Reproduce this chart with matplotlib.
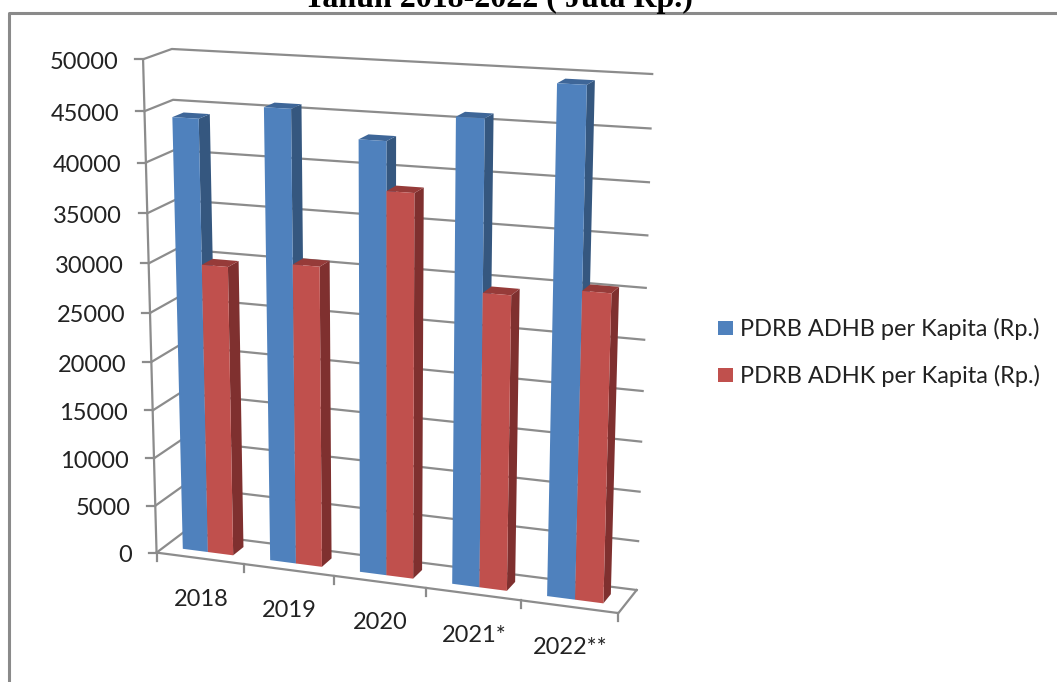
import numpy as np
import matplotlib
matplotlib.use("Agg")
import matplotlib.pyplot as plt
from matplotlib.patches import Polygon, Rectangle

plt.rcParams["font.family"] = ["Lato", "DejaVu Sans"]

W, H = 1057, 682

years = ["2018", "2019", "2020", "2021*", "2022**"]
adhb = [44200, 45700, 43200, 45900, 49500]
adhk = [29800, 30600, 38450, 29400, 30400]
series_names = ["PDRB ADHB per Kapita (Rp.)", "PDRB ADHK per Kapita (Rp.)"]
y_ticks = [0, 5000, 10000, 15000, 20000, 25000, 30000, 35000, 40000, 45000, 50000]

BLUE = ("#4f81bd", "#35577f", "#3e6698")
RED = ("#c0504d", "#7f302f", "#963b39")
GRID = "#8c8c8c"

# pixel positions of the chart box corners, (category pos, depth, value) -> (px, py)
anchors = [
    (0, 0, 0, 157, 552), (0, 0, 25000, 150, 313), (0, 0, 50000, 143, 59),
    (0, 1, 0, 183, 533), (0, 1, 45000, 173, 100), (0, 1, 50000, 172, 49),
    (5, 1, 0, 637, 589), (5, 1, 30000, 646, 288), (5, 1, 50000, 652, 74),
    (5, 0, 0, 618, 614),
]


def fit_camera(points):
    # least squares fit of a 3x4 projective matrix
    rows = []
    rhs = []
    for u, d, v, px, py in points:
        v = v / 50000
        rows.append([u, d, v, 1, 0, 0, 0, 0, -px * u, -px * d, -px * v])
        rows.append([0, 0, 0, 0, u, d, v, 1, -py * u, -py * d, -py * v])
        rhs += [px, py]
    sol = np.linalg.lstsq(np.array(rows, float), np.array(rhs, float), rcond=None)[0]
    return np.append(sol, 1).reshape(3, 4)


CAM = fit_camera(anchors)


def project(u, d, v):
    q = CAM @ np.array([u, d, v / 50000, 1.0])
    return q[0] / q[2], q[1] / q[2]


def draw_bar(ax, u0, u1, d0, d1, value, colors):
    front = [project(u0, d0, 0), project(u1, d0, 0), project(u1, d0, value), project(u0, d0, value)]
    side = [project(u1, d0, 0), project(u1, d1, 0), project(u1, d1, value), project(u1, d0, value)]
    top = [project(u0, d0, value), project(u1, d0, value), project(u1, d1, value), project(u0, d1, value)]
    ax.add_patch(Polygon(side, fc=colors[1], ec="none", zorder=3))
    ax.add_patch(Polygon(top, fc=colors[2], ec="none", zorder=3))
    ax.add_patch(Polygon(front, fc=colors[0], ec="none", zorder=3))


fig = plt.figure(figsize=(W / 100, H / 100), dpi=100)
ax = fig.add_axes([0, 0, 1, 1])
ax.set_xlim(0, W)
ax.set_ylim(H, 0)
ax.axis("off")

# frame of the pasted chart
ax.plot([9, 9, W], [H, 13, 13], color="#8a8a8a", lw=2.2, zorder=1)

ax.text(498, 7, "Tahun 2018-2022 ( Juta Rp.)", family="Liberation Serif", weight="bold",
        fontsize=23, ha="center", va="baseline", color="black")

# gridlines, left wall and floor
for val in y_ticks:
    pts = [project(0, 0, val), project(0, 1, val), project(5, 1, val)]
    ax.plot(*zip(*pts), color=GRID, lw=1.6, zorder=2)
    left = project(0, 0, val)
    ax.plot([left[0] - 8, left[0]], [left[1], left[1]], color=GRID, lw=1.6, zorder=2)
    ax.text(left[0] - 25, left[1] + 3, str(val), ha="right", va="center",
            fontsize=17, color="#222222")

ax.plot(*zip(project(0, 0, 0), project(0, 0, 50000)), color=GRID, lw=1.6, zorder=2)
floor = [project(0, 0, 0), project(5, 0, 0), project(5, 1, 0)]
ax.plot(*zip(*floor), color=GRID, lw=1.6, zorder=2)

for i in range(6):
    x0, y0 = project(i, 0, 0)
    ax.plot([x0, x0], [y0, y0 + 8], color=GRID, lw=1.6, zorder=2)

# bars
gap = 0.21
d0, d1 = 0.3, 0.7
for i, year in enumerate(years):
    mid = i + 0.5
    draw_bar(ax, i + gap, mid, d0, d1, adhb[i], BLUE)
    draw_bar(ax, mid, i + 1 - gap, d0, d1, adhk[i], RED)
    x0, y0 = project(mid, 0, 0)
    ax.text(x0 + 1, y0 + 41, year, ha="center", va="center", fontsize=17, color="#222222")

# legend
for k, name in enumerate(series_names):
    yy = 328 + 47 * k
    ax.add_patch(Rectangle((718, yy - 7), 15, 14, fc=(BLUE, RED)[k][0], ec="none"))
    ax.text(740, yy + 1, name, ha="left", va="center", fontsize=17, color="#222222")

fig.savefig("out.png", dpi=100)
